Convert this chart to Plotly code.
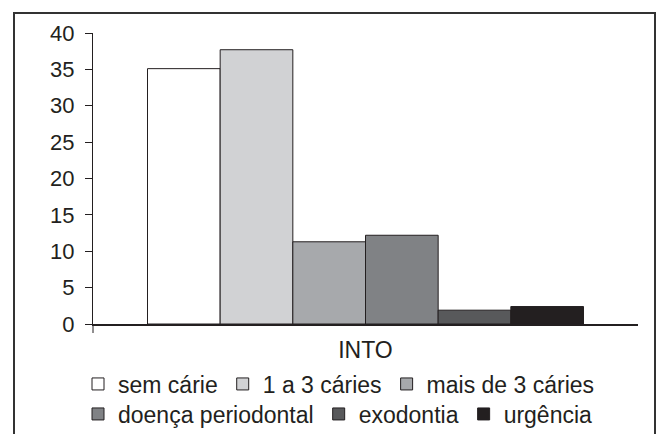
import plotly.graph_objects as go

# Dental care needs at INTO (percent of patients)
category = ["INTO"]
series_names = ["sem cárie", "1 a 3 cáries", "mais de 3 cáries",
                "doença periodontal", "exodontia", "urgência"]
series_values = [35.1, 37.7, 11.3, 12.2, 1.9, 2.4]
series_colors = ["#ffffff", "#d1d2d4", "#a7a9ac", "#808285", "#58595b", "#231f20"]
y_ticks = [0, 5, 10, 15, 20, 25, 30, 35, 40]

W, H = 661, 434
L, R, T, B = 93, 23, 33, 110
plot_w = W - L - R
plot_h = H - T - B


def px_x(px):
    return (px - L) / plot_w


def px_y(py):
    return (H - B - py) / plot_h


ink = "#231f20"
family = "Liberation Sans, Arial, sans-serif"
font = dict(family=family, size=22, color=ink)

fig = go.Figure()
for i, (name, val, col) in enumerate(zip(series_names, series_values, series_colors)):
    fig.add_trace(go.Bar(
        x=category, y=[val], name=name,
        marker=dict(color=col, line=dict(color=ink, width=1)),
        legend="legend" if i < 3 else "legend2",
    ))

legend_common = dict(
    orientation="h", xanchor="left", yanchor="middle",
    font=dict(family=family, size=23, color=ink),
    traceorder="normal", itemclick=False, itemdoubleclick=False,
    bgcolor="rgba(0,0,0,0)",
)

fig.update_layout(
    width=W, height=H,
    margin=dict(l=L, r=R, t=T, b=B, autoexpand=False),
    paper_bgcolor="white", plot_bgcolor="white",
    barmode="group", bargap=0.2, bargroupgap=0,
    font=font,
    showlegend=True,
    legend=dict(x=px_x(78), y=px_y(384), **legend_common),
    legend2=dict(x=px_x(78), y=px_y(414), **legend_common),
    xaxis=dict(
        type="category", range=[-0.5, 0.5],
        showline=True, linecolor=ink, linewidth=1.5,
        ticks="", showgrid=False, zeroline=False,
        ticklabelstandoff=5,
        tickfont=dict(family=family, size=23, color=ink),
    ),
    yaxis=dict(
        range=[0, 40], tickvals=y_ticks,
        showline=True, linecolor=ink, linewidth=1,
        ticks="outside", ticklen=7, tickcolor=ink, tickwidth=1,
        showgrid=False, zeroline=False,
        ticklabelstandoff=6,
        tickfont=dict(family=family, size=22, color=ink),
    ),
    shapes=[
        # outer frame around the chart
        dict(type="rect", xref="paper", yref="paper",
             x0=px_x(14), x1=px_x(655), y0=px_y(450), y1=px_y(13),
             line=dict(color="#333333", width=2), fillcolor="rgba(0,0,0,0)",
             layer="below"),
        # category boundary tick below the value axis
        dict(type="line", xref="paper", yref="paper",
             x0=0, x1=0, y0=0, y1=px_y(333),
             line=dict(color=ink, width=1)),
    ],
)

fig.write_html("out.html")
